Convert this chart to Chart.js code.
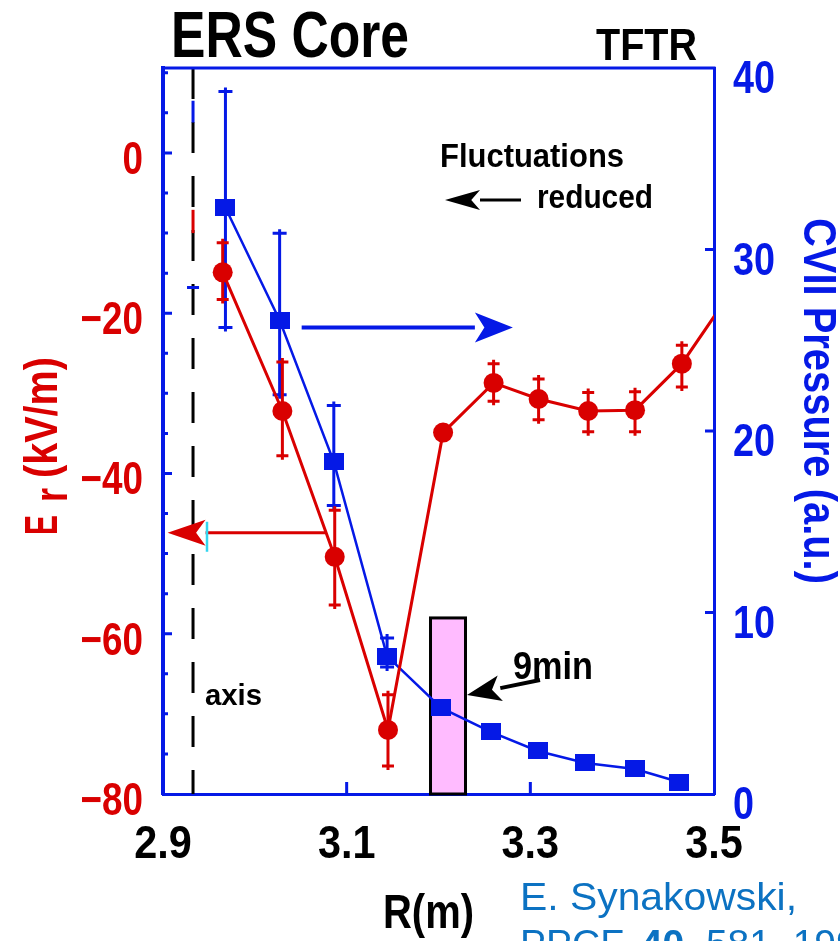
<!DOCTYPE html>
<html>
<head>
<meta charset="utf-8">
<title>ERS Core - TFTR</title>
<script src="https://cdn.jsdelivr.net/npm/chart.js@4.4.1/dist/chart.umd.min.js"></script>
<style>
  html, body { margin: 0; padding: 0; background: #fff; }
  canvas { display: block; }
</style>
</head>
<body>
<canvas id="erChart" width="840" height="941"></canvas>
<script>
// Radial electric field E_r (kV/m), red, left axis
const erR    = [2.965, 3.030, 3.087, 3.145, 3.205, 3.260, 3.309, 3.363, 3.414, 3.465, 3.520];
const erVal  = [-14.9, -32.2, -50.4, -72.0, -34.9, -28.7, -30.7, -32.2, -32.1, -26.3, -17.1];
const erLow  = [-18.3, -37.8, -56.4, -76.5, null, -31.0, -33.3, -34.8, -34.8, -29.2, null];
const erHigh = [-11.2, -26.1, -44.6, -67.6, null, -26.3, -28.2, -29.9, -29.8, -24.0, null];

// CVII pressure (a.u.), blue, right axis
const pR    = [2.968, 3.027, 3.086, 3.144, 3.203, 3.257, 3.308, 3.360, 3.414, 3.462];
const pVal  = [32.3, 26.1, 18.3, 7.6, 4.74, 3.42, 2.37, 1.71, 1.38, 0.66];
const pLow  = [25.7, 22.0, 15.9, 7.0, null, null, null, null, null, null];
const pHigh = [38.7, 30.9, 21.4, 8.6, null, null, null, null, null, null];

// axis ticks
const xTicks  = [2.9, 3.1, 3.3, 3.5];
const erTicks = [-80, -60, -40, -20, 0];
const pTicks  = [0, 10, 20, 30, 40];

const RED = "#d90000";
const BLUE = "#0519e6";
const SANS = "'Liberation Sans', Arial, sans-serif";

// text squeezed horizontally to a given width
function fitText(ctx, text, x, y, font, width, color) {
  ctx.save();
  ctx.font = font;
  ctx.fillStyle = color;
  ctx.textAlign = "left";
  ctx.textBaseline = "alphabetic";
  const w = ctx.measureText(text).width;
  ctx.translate(x, y);
  ctx.scale(width ? width / w : 1, 1);
  ctx.fillText(text, 0, 0);
  ctx.restore();
}

// tick labels of a chart scale, in a condensed bold face
function tickLabels(ctx, scale, color, sx, place) {
  ctx.save();
  ctx.font = "bold 46px " + SANS;
  ctx.fillStyle = color;
  ctx.textAlign = "left";
  ctx.textBaseline = "alphabetic";
  scale.ticks.forEach(t => {
    const p = scale.getPixelForValue(t.value);
    const w = ctx.measureText(t.label).width * sx;
    const [lx, ly] = place(p, w);
    ctx.save();
    ctx.translate(lx, ly);
    ctx.scale(sx, 1);
    ctx.fillText(t.label, 0, 0);
    ctx.restore();
  });
  ctx.restore();
}

function arrow(ctx, x1, y1, x2, y2, head, half, lw, color) {
  const a = Math.atan2(y2 - y1, x2 - x1);
  const bx = x2 - head * Math.cos(a), by = y2 - head * Math.sin(a);
  ctx.save();
  ctx.strokeStyle = color;
  ctx.fillStyle = color;
  ctx.lineWidth = lw;
  ctx.beginPath();
  ctx.moveTo(x1, y1);
  ctx.lineTo(bx, by);
  ctx.stroke();
  ctx.beginPath();
  ctx.moveTo(x2, y2);
  ctx.lineTo(bx + half * Math.sin(a), by - half * Math.cos(a));
  ctx.lineTo(bx + 0.25 * head * Math.cos(a), by + 0.25 * head * Math.sin(a));
  ctx.lineTo(bx - half * Math.sin(a), by + half * Math.cos(a));
  ctx.closePath();
  ctx.fill();
  ctx.restore();
}

function errorBars(ctx, xs, lo, hi, xScale, yScale, color, lw, cap) {
  ctx.save();
  ctx.strokeStyle = color;
  ctx.lineWidth = lw;
  xs.forEach((r, i) => {
    if (lo[i] == null) return;
    const x = xScale.getPixelForValue(r);
    const yl = yScale.getPixelForValue(lo[i]);
    const yh = yScale.getPixelForValue(hi[i]);
    ctx.beginPath();
    ctx.moveTo(x, yl + 4);
    ctx.lineTo(x, yh - 4);
    ctx.moveTo(x - cap / 2, yl);
    ctx.lineTo(x + cap / 2, yl);
    ctx.moveTo(x - cap / 2, yh);
    ctx.lineTo(x + cap / 2, yh);
    ctx.stroke();
  });
  ctx.restore();
}

// blue square marker, a bit wider than tall
const squareMark = document.createElement("canvas");
squareMark.width = 20;
squareMark.height = 17;
const sq = squareMark.getContext("2d");
sq.fillStyle = BLUE;
sq.fillRect(0, 0, 20, 17);

// pink window, dashed magnetic-axis line, error bars
const underlay = {
  id: "underlay",
  beforeDatasetsDraw(chart) {
    const { ctx, chartArea: a, scales: { x, y, y1 } } = chart;
    ctx.save();
    // pink window around the E_r minimum
    const px1 = x.getPixelForValue(3.1913), px2 = x.getPixelForValue(3.2294);
    const pyTop = y1.getPixelForValue(9.7);
    ctx.fillStyle = "#ffbbff";
    ctx.fillRect(px1, pyTop, px2 - px1, a.bottom - pyTop);
    ctx.strokeStyle = "#000";
    ctx.lineWidth = 3;
    ctx.strokeRect(px1, pyTop, px2 - px1, a.bottom - pyTop);

    // magnetic axis
    const ax = x.getPixelForValue(2.9327);
    ctx.lineWidth = 3;
    ctx.setLineDash([31, 23]);
    ctx.beginPath();
    ctx.moveTo(ax, a.top);
    ctx.lineTo(ax, a.bottom);
    ctx.stroke();
    ctx.setLineDash([]);
    ctx.strokeStyle = BLUE;
    ctx.beginPath();
    ctx.moveTo(ax, y1.getPixelForValue(38.2));
    ctx.lineTo(ax, y1.getPixelForValue(37.0));
    ctx.moveTo(ax - 6, y1.getPixelForValue(27.9));
    ctx.lineTo(ax + 6, y1.getPixelForValue(27.9));
    ctx.stroke();
    ctx.strokeStyle = RED;
    ctx.beginPath();
    ctx.moveTo(ax, y.getPixelForValue(-7.1));
    ctx.lineTo(ax, y.getPixelForValue(-10.0));
    ctx.stroke();
    ctx.restore();

    errorBars(ctx, pR, pLow, pHigh, x, y1, BLUE, 3, 14);
    errorBars(ctx, erR, erLow, erHigh, x, y, RED, 3, 12);
  }
};

// frame ticks, tick labels, arrows and all the free text
const overlay = {
  id: "overlay",
  afterDraw(chart) {
    const { ctx, chartArea: a, scales: { x, y, y1 } } = chart;
    ctx.save();
    ctx.strokeStyle = BLUE;
    ctx.lineWidth = 3;
    ctx.beginPath();
    ctx.moveTo(a.left - 2, a.top);
    ctx.lineTo(a.right + 1.5, a.top);
    // inward ticks, left axis every 5 kV/m
    for (let v = -75; v <= 10; v += 5) {
      const py = y.getPixelForValue(v);
      ctx.moveTo(a.left, py);
      ctx.lineTo(a.left + (v % 20 === 0 ? 9 : 5), py);
    }
    [10, 20, 30].forEach(v => {
      const py = y1.getPixelForValue(v);
      ctx.moveTo(a.right, py);
      ctx.lineTo(a.right - 9, py);
    });
    [3.1, 3.3].forEach(v => {
      const px = x.getPixelForValue(v);
      ctx.moveTo(px, a.bottom);
      ctx.lineTo(px, a.bottom - 12);
    });
    ctx.stroke();
    ctx.restore();

    tickLabels(ctx, y, RED, 0.8, (p, w) => [a.left - 20 - w, p + 21]);
    tickLabels(ctx, y1, BLUE, 0.82, (p, w) => [a.right + 19, p + 25]);
    tickLabels(ctx, x, "#000", 0.9, (p, w) => [p - w / 2, a.bottom + 64]);

    // pressure arrow (points right) and E_r arrow (points left)
    const yb = y1.getPixelForValue(25.7);
    arrow(ctx, x.getPixelForValue(3.051), yb, x.getPixelForValue(3.281), yb, 38, 15, 4, BLUE);
    const yr = y.getPixelForValue(-47.4);
    arrow(ctx, x.getPixelForValue(3.077), yr, x.getPixelForValue(2.905), yr, 38, 13, 3, RED);
    ctx.save();
    ctx.strokeStyle = "#33d6f0";
    ctx.lineWidth = 2.5;
    ctx.beginPath();
    ctx.moveTo(207, yr - 11);
    ctx.lineTo(207, yr + 19);
    ctx.stroke();
    ctx.restore();

    // annotations in the plot
    fitText(ctx, "Fluctuations", 440, 167, "bold 33px " + SANS, 184, "#000");
    arrow(ctx, 521, 200, 445, 200, 35, 10, 3, "#000");
    fitText(ctx, "reduced", 537, 208, "bold 33px " + SANS, 116, "#000");
    fitText(ctx, "9min", 513, 679, "bold 38px " + SANS, 80, "#000");
    arrow(ctx, 540, 680, 467, 695, 34, 13, 4, "#000");
    fitText(ctx, "axis", 205, 705, "bold 30px " + SANS, 57, "#000");

    // titles
    fitText(ctx, "ERS Core", 171, 57, "bold 65px " + SANS, 238, "#000");
    fitText(ctx, "TFTR", 596, 60, "bold 44px " + SANS, 101, "#000");
    fitText(ctx, "R(m)", 383, 928, "bold 49px " + SANS, 91, "#000");

    // left axis title, read bottom to top, subscript r
    ctx.save();
    ctx.translate(57, 535);
    ctx.rotate(-Math.PI / 2);
    fitText(ctx, "E", 0, 0, "bold 46px " + SANS, 20, RED);
    fitText(ctx, "r", 33, 10, "bold 46px " + SANS, 14, RED);
    fitText(ctx, "(kV/m)", 57, 0, "bold 46px " + SANS, 121, RED);
    ctx.restore();

    // right axis title, read top to bottom
    ctx.save();
    ctx.translate(804, 218);
    ctx.rotate(Math.PI / 2);
    fitText(ctx, "CVII Pressure (a.u.)", 0, 0, "bold 46px " + SANS, 366, BLUE);
    ctx.restore();

    // reference
    const cite = "#0c72c2";
    fitText(ctx, "E. Synakowski,", 520, 910, "39px " + SANS, 277, cite);
    ctx.save();
    ctx.fillStyle = cite;
    ctx.textBaseline = "alphabetic";
    ctx.font = "39px " + SANS;
    ctx.fillText("PPCF ", 520, 957);
    let cx = 520 + ctx.measureText("PPCF ").width + 6;
    ctx.font = "bold 39px " + SANS;
    ctx.fillText("40", cx, 957);
    cx += ctx.measureText("40").width;
    ctx.font = "39px " + SANS;
    ctx.fillText(", 581, 1998", cx, 957);
    ctx.restore();
  }
};

new Chart(document.getElementById("erChart"), {
  type: "line",
  data: {
    datasets: [
      {
        label: "E_r",
        data: erR.map((r, i) => ({ x: r, y: erVal[i] })),
        yAxisID: "y",
        borderColor: RED,
        backgroundColor: RED,
        borderWidth: 3,
        pointStyle: "circle",
        pointRadius: ctx => (ctx.dataIndex < 10 ? 10 : 0),
        pointBorderWidth: 0,
        tension: 0
      },
      {
        label: "CVII pressure",
        data: pR.map((r, i) => ({ x: r, y: pVal[i] })),
        yAxisID: "y1",
        borderColor: BLUE,
        backgroundColor: BLUE,
        borderWidth: 2.5,
        pointStyle: squareMark,
        tension: 0
      }
    ]
  },
  options: {
    responsive: false,
    animation: false,
    devicePixelRatio: 1,
    layout: { padding: { top: 68, left: 0, right: 0, bottom: 0 } },
    plugins: {
      legend: { display: false },
      tooltip: { enabled: false }
    },
    scales: {
      x: {
        type: "linear",
        min: 2.9,
        max: 3.5,
        afterFit: s => { s.height = 147; },
        afterBuildTicks: s => { s.ticks = xTicks.map(v => ({ value: v })); },
        grid: { display: false, drawTicks: false },
        border: { color: BLUE, width: 3 },
        ticks: { display: false, callback: v => v.toFixed(1) }
      },
      y: {
        position: "left",
        min: -80,
        max: 10.6,
        afterFit: s => { s.width = 163; },
        afterBuildTicks: s => { s.ticks = erTicks.map(v => ({ value: v })); },
        grid: { display: false, drawTicks: false },
        border: { color: BLUE, width: 4 },
        ticks: { display: false, callback: v => (v < 0 ? "\u2212" + Math.abs(v) : String(v)) }
      },
      y1: {
        position: "right",
        min: 0,
        max: 40,
        afterFit: s => { s.width = 126; },
        afterBuildTicks: s => { s.ticks = pTicks.map(v => ({ value: v })); },
        grid: { display: false, drawTicks: false },
        border: { color: BLUE, width: 3 },
        ticks: { display: false, callback: v => String(v) }
      }
    }
  },
  plugins: [underlay, overlay]
});
</script>
</body>
</html>
